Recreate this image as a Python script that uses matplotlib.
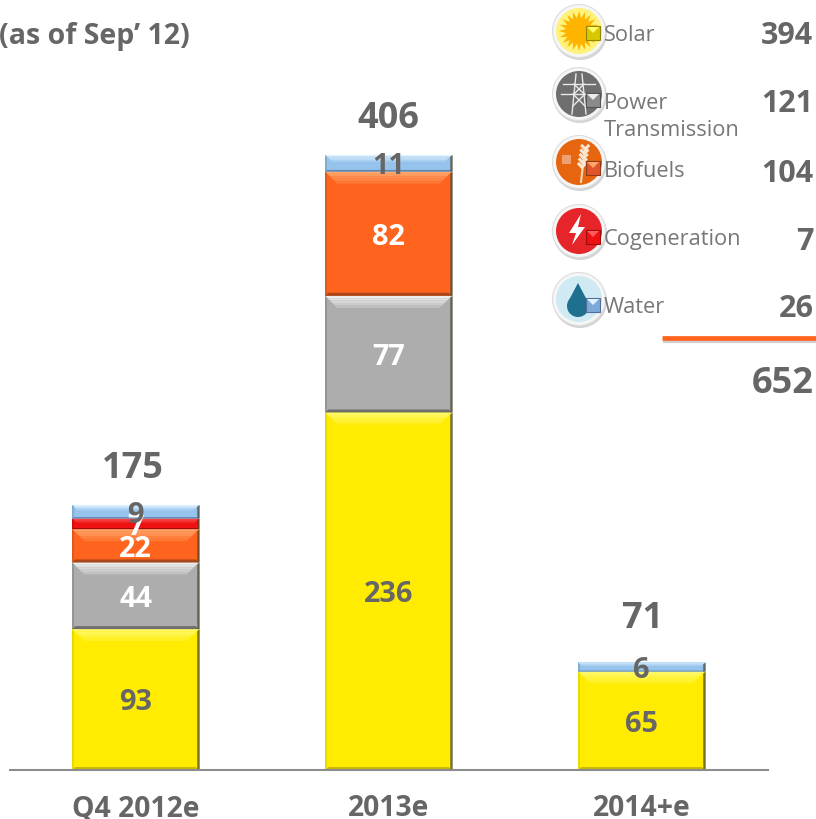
import numpy as np
import matplotlib
matplotlib.use('Agg')
import matplotlib.pyplot as plt
from matplotlib.colors import to_rgb
from matplotlib.patches import Circle, Polygon, Rectangle

plt.rcParams['font.family'] = ['Open Sans', 'DejaVu Sans']

# data
categories = ['Q4 2012e', '2013e', '2014+e']
solar = [93, 236, 65]
power = [44, 77, 0]
biofuels = [22, 82, 0]
cogen = [7, 0, 0]
water = [9, 11, 6]
totals = [175, 406, 71]

legend_names = ['Solar', 'Power\nTransmission', 'Biofuels', 'Cogeneration', 'Water']
legend_values = [394, 121, 104, 7, 26]
grand_total = 652
note = '(as of Sep\u2019 12)'

# colours: base, light, dark, label
GREY = '#666666'
styles = [
    ('#ffec00', '#fff96a', '#c9b800', GREY),
    ('#adadad', '#ececec', '#6f6f6f', 'white'),
    ('#ff641e', '#ffa56a', '#a8471a', 'white'),
    ('#ee1111', '#ff5a5a', '#a00c0c', 'white'),
    ('#96c3ec', '#dff2ff', '#5f86ad', GREY),
]
series = [solar, power, biofuels, cogen, water]

W, H = 816, 820
fig = plt.figure(figsize=(W / 100, H / 100), dpi=100)

# main axes: baseline at y=771, spans x 10..768 in pixels
ax = fig.add_axes([10 / W, (H - 771) / H, 758 / W, 771 / H])
px_x = 253.0
px_y = 1.515
ax.set_xlim(-125.5 / px_x, 632.5 / px_x)
ax.set_ylim(0, 771 / px_y)
ax.axis('off')
bar_w = 0.5


def bevel_bar(x, bottom, height, base, light, dark):
    ax.bar(x, height, bar_w, bottom=bottom, color=base, linewidth=0, zorder=2)
    x0, x1 = x - bar_w / 2, x + bar_w / 2
    y0, y1 = bottom, bottom + height
    bh = min(12 / px_y, height * 0.4)
    dx = bh * px_y / px_x
    # top bevel: stacked trapezoids for a rough gradient
    c0, c1 = np.array(to_rgb(light)), np.array(to_rgb(base))
    n = 5
    for j in range(n):
        f0, f1 = j / n, (j + 1) / n
        col = c0 + (c1 - c0) * f0 * 0.85
        ax.add_patch(Polygon([(x0 + dx * f0, y1 - bh * f0), (x1 - dx * f0, y1 - bh * f0),
                              (x1 - dx * f1, y1 - bh * f1), (x0 + dx * f1, y1 - bh * f1)],
                             fc=col, ec='none', zorder=3))
    # bottom bevel
    b2 = bh * 0.25
    ax.add_patch(Polygon([(x0, y0), (x1, y0), (x1 - dx * 0.25, y0 + b2), (x0 + dx * 0.25, y0 + b2)],
                         fc=dark, ec='none', zorder=3))
    # side edges
    ax.add_patch(Polygon([(x1 + 1 / px_x, y0), (x1 + 1 / px_x, y1), (x1 - 1.5 / px_x, y1 - 2 / px_y), (x1 - 1.5 / px_x, y0)],
                         fc='#4a4a30', ec='none', alpha=0.75, zorder=3))
    ax.add_patch(Polygon([(x0, y0), (x0, y1), (x0 + 1.5 / px_x, y1 - 2 / px_y), (x0 + 1.5 / px_x, y0)],
                         fc=dark, ec='none', alpha=0.5, zorder=3))


xs = np.arange(len(categories))
bottoms = np.zeros(len(categories))
for vals, (base, light, dark, lab) in zip(series, styles):
    for i, v in enumerate(vals):
        if v == 0:
            continue
        bevel_bar(xs[i], bottoms[i], v, base, light, dark)
        ax.text(xs[i], bottoms[i] + v / 2 + 0.7, str(v), ha='center', va='center_baseline',
                fontsize=20.8, fontweight='bold', color=lab, zorder=5)
    bottoms += np.array(vals)

total_offset = [27.5, 27.5, 32.5]
total_shift = [-3 / px_x, 0, 1 / px_x]
for i, t in enumerate(totals):
    ax.text(xs[i] + total_shift[i], t + total_offset[i], str(t), ha='center', va='center_baseline',
            fontsize=26, fontweight='bold', color=GREY, zorder=5)

ax.plot([-125.5 / px_x, 632.5 / px_x], [0, 0], color='#8c8c8c', lw=1.5, clip_on=False, zorder=4)
for i, c in enumerate(categories):
    ax.text(xs[i], -34.5 / px_y, c, ha='center', va='center_baseline',
            fontsize=20.3, fontweight='bold', color=GREY, clip_on=False)

# overlay in pixel coords for the legend block
ov = fig.add_axes([0, 0, 1, 1], facecolor='none')
ov.set_xlim(0, W)
ov.set_ylim(H, 0)
ov.axis('off')

ov.text(-1, 33, note, ha='left', va='center_baseline', fontsize=20.5, fontweight='bold', color=GREY)

icon_y = [32, 95, 163, 232, 300]
icon_bg = ['#fff27a', '#6e6e6e', '#e8650f', '#e5252a', '#cfeaf2']
row_y = [33, 101, 169, 237, 305]
val_y = [33, 101, 170, 238, 306]


def icon(cy, bg):
    cx = 579
    ov.add_patch(Circle((cx + 1, cy + 2), 27, fc='#d4d4d4', ec='none', zorder=2))
    ov.add_patch(Circle((cx, cy), 26.5, fc='#f6f6f6', ec='#dddddd', lw=0.8, zorder=2))
    ov.add_patch(Circle((cx, cy), 23, fc=bg, ec='none', zorder=3))
    return cx


# sun
cx = icon(icon_y[0], icon_bg[0])
ang = np.linspace(0, 2 * np.pi, 41)[:-1]
rad = np.where(np.arange(40) % 2 == 0, 20, 13)
ov.add_patch(Polygon(np.c_[cx + rad * np.cos(ang), icon_y[0] + rad * np.sin(ang)],
                     fc='#ffb400', ec='none', zorder=4))
# pylon
cx = icon(icon_y[1], icon_bg[1])
cy = icon_y[1]
for seg in [[(-3, -20), (-7, 20)], [(3, -20), (7, 20)], [(-16, -10), (16, -10)], [(-18, 0), (18, 0)],
            [(-5, -10), (5, 0)], [(5, -10), (-5, 0)], [(-6, 0), (6, 12)], [(6, 0), (-6, 12)]]:
    ov.plot([cx + seg[0][0], cx + seg[1][0]], [cy + seg[0][1], cy + seg[1][1]],
            color='#e8e8e8', lw=1, zorder=4)
# wheat
cx = icon(icon_y[2], icon_bg[2])
cy = icon_y[2]
ov.plot([cx + 2, cx + 6], [cy + 20, cy - 14], color='#f3d9b8', lw=1.5, zorder=4)
for k in range(5):
    ov.plot([cx + 3 + k * 0.8 - 3, cx + 3 + k * 0.8], [cy + 5 - k * 4.5 - 3, cy + 5 - k * 4.5],
            color='#f8e6cf', lw=2.2, zorder=4)
    ov.plot([cx + 3 + k * 0.8 + 3, cx + 3 + k * 0.8], [cy + 5 - k * 4.5 - 3, cy + 5 - k * 4.5],
            color='#f8e6cf', lw=2.2, zorder=4)
ov.add_patch(Rectangle((cx - 17, cy - 7), 9, 9, fc='#f0a070', ec='none', zorder=4))
# bolt
cx = icon(icon_y[3], icon_bg[3])
cy = icon_y[3]
ov.add_patch(Polygon([(cx + 2, cy - 17), (cx - 10, cy + 2), (cx - 3, cy + 2), (cx - 7, cy + 14),
                      (cx + 6, cy - 4), (cx - 1, cy - 4)], fc='white', ec='none', zorder=4))
# drop
cx = icon(icon_y[4], icon_bg[4])
cy = icon_y[4]
ov.add_patch(Circle((cx - 1, cy + 7), 11, fc='#1f6f8f', ec='none', zorder=4))
ov.add_patch(Polygon([(cx - 1, cy - 16), (cx - 11, cy + 3), (cx + 9, cy + 3)], fc='#1f6f8f', ec='none', zorder=4))

# legend swatches, labels, values
swatch = ['#d8c800', '#8a8a8a', '#e0562a', '#ee1111', '#7ea8d8']
swatch_edge = ['#8f8500', '#555555', '#8f3a1a', '#a00c0c', '#4f6f9a']
for k, (name, val) in enumerate(zip(legend_names, legend_values)):
    light = styles[k][1]
    sy = icon_y[k] + 6 if k else icon_y[k] + 2
    ov.add_patch(Rectangle((586, sy - 7), 14, 14, fc=swatch[k], ec=swatch_edge[k], lw=0.8, zorder=6))
    ov.add_patch(Polygon([(587, sy - 6), (599, sy - 6), (593, sy)], fc=light, ec='none', zorder=7))
    ov.text(604, row_y[k], name.split('\n')[0], ha='left', va='center_baseline', fontsize=15.7, color='#777777', zorder=8)
    if '\n' in name:
        ov.text(604, row_y[k] + 27, name.split('\n')[1], ha='left', va='center_baseline',
                fontsize=15.7, color='#777777', zorder=8)
    ov.text(813.5, val_y[k], str(val), ha='right', va='center_baseline',
            fontsize=22, fontweight='bold', color=GREY, zorder=8)

ov.plot([663, 816], [342, 342], color='#cfcfcf', lw=3, solid_capstyle='butt', zorder=2)
ov.plot([662, 816], [339, 339], color='#ff641e', lw=3.4, solid_capstyle='butt', zorder=3)
ov.text(813.5, 380, str(grand_total), ha='right', va='center_baseline',
        fontsize=26, fontweight='bold', color=GREY)

fig.savefig('out.png', dpi=100)
